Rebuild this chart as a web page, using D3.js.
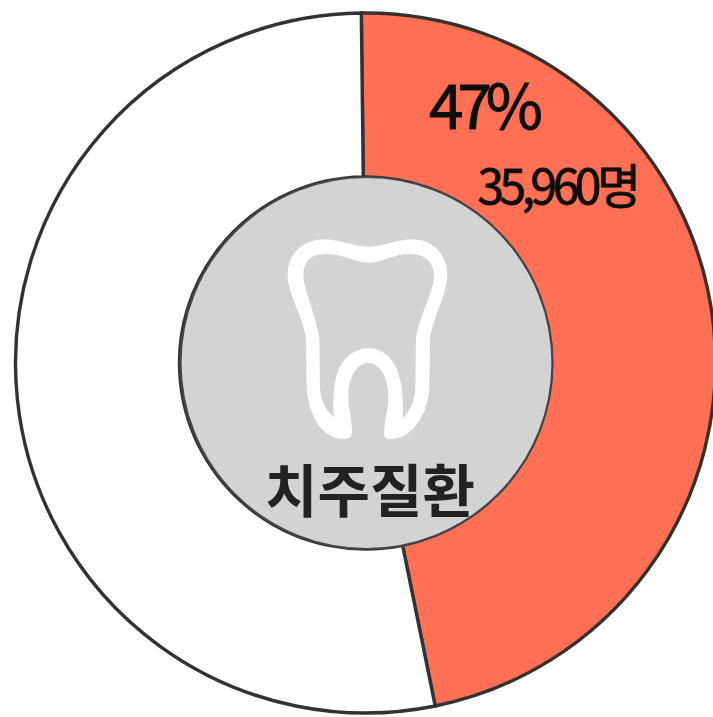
<!DOCTYPE html>
<html>
<head>
<meta charset="utf-8">
<script src="https://cdn.jsdelivr.net/npm/d3@7"></script>
<style>
  html, body { margin: 0; padding: 0; background: #fff; overflow: hidden; }
  svg { display: block; }
  text { font-family: "Noto Sans CJK KR", sans-serif; }
</style>
</head>
<body>
<script>
const categories = ["치주질환", "기타"];
const shares = [47, 53];
const percentLabels = ["47%"];
const countLabels = ["35,960명"];
const sliceColors = ["#ff6f54", "#ffffff"];

const w = 713,
      h = 717,
      cx = 365.5,
      cy = 363,
      outerR = 350,
      innerR = 186;

const svg = d3.select("body")
              .append("svg")
              .attr("width", w)
              .attr("height", h);

const defs = svg.append("defs");
defs.append("filter")
    .attr("id", "soft")
    .append("feGaussianBlur")
    .attr("stdDeviation", 0.6);

const color = d3.scaleOrdinal().domain(categories).range(sliceColors);

const pie = d3.pie()
              .sort(null)
              .startAngle(-0.012)
              .endAngle(2 * Math.PI - 0.012);

const arc = d3.arc().innerRadius(innerR).outerRadius(outerR);

const chart = svg.append("g")
                 .attr("filter", "url(#soft)");

const ring = chart.append("g")
                  .attr("transform", "translate(" + cx + "," + cy + ")");

ring.selectAll("path")
    .data(pie(shares))
    .enter()
    .append("path")
    .attr("d", arc)
    .attr("fill", (d, i) => color(categories[i]))
    .attr("stroke", "#333")
    .attr("stroke-width", 3.4);

// centre disc
chart.append("circle")
     .attr("cx", cx + 1)
     .attr("cy", cy)
     .attr("r", innerR)
     .attr("fill", "#d3d3d3")
     .attr("stroke", "#444")
     .attr("stroke-width", 2.2);

// tooth icon, traced at 3x around (180,180)
chart.append("path")
     .attr("transform", "translate(180,180) scale(0.3333)")
     .attr("fill", "#fff")
     .attr("fill-rule", "evenodd")
     .attr("d", "M505 775 C495 778 480 778 470 775 C420 760 385 700 380 620 L378 480 C375 420 325 350 323 285 C322 220 370 180 430 178 C480 178 520 200 565 200 C610 200 650 178 700 178 C760 180 802 225 802 285 C800 350 755 420 750 480 L748 620 C745 700 700 765 650 775 C640 778 625 778 618 775 C602 765 625 700 625 650 C625 590 600 550 565 548 C530 550 505 590 505 650 C505 700 530 765 505 775 Z " +
                "M370 285 C372 235 400 222 440 222 C490 222 525 248 565 248 C605 248 640 222 690 222 C735 222 762 245 762 290 C760 340 712 420 708 480 L706 620 C706 660 690 695 668 715 C670 680 668 620 660 600 C650 540 610 505 565 505 C520 505 475 540 465 610 C458 650 460 690 462 712 C435 690 420 650 420 620 L418 480 C415 420 372 340 370 285 Z");

chart.append("text")
     .text(categories[0])
     .attr("x", 370)
     .attr("y", 512)
     .attr("text-anchor", "middle")
     .attr("font-size", 57)
     .attr("font-weight", 700)
     .attr("fill", "#222");

chart.append("text")
     .text(percentLabels[0])
     .attr("x", 483)
     .attr("y", 129)
     .attr("text-anchor", "middle")
     .attr("font-size", 62)
     .attr("letter-spacing", -6)
     .attr("fill", "#111")
     .attr("stroke", "#111")
     .attr("stroke-width", 1);

chart.append("text")
     .text(countLabels[0])
     .attr("x", 557)
     .attr("y", 204)
     .attr("text-anchor", "middle")
     .attr("font-size", 48)
     .attr("letter-spacing", -4.5)
     .attr("fill", "#111")
     .attr("stroke", "#111")
     .attr("stroke-width", 0.8);
</script>
</body>
</html>
